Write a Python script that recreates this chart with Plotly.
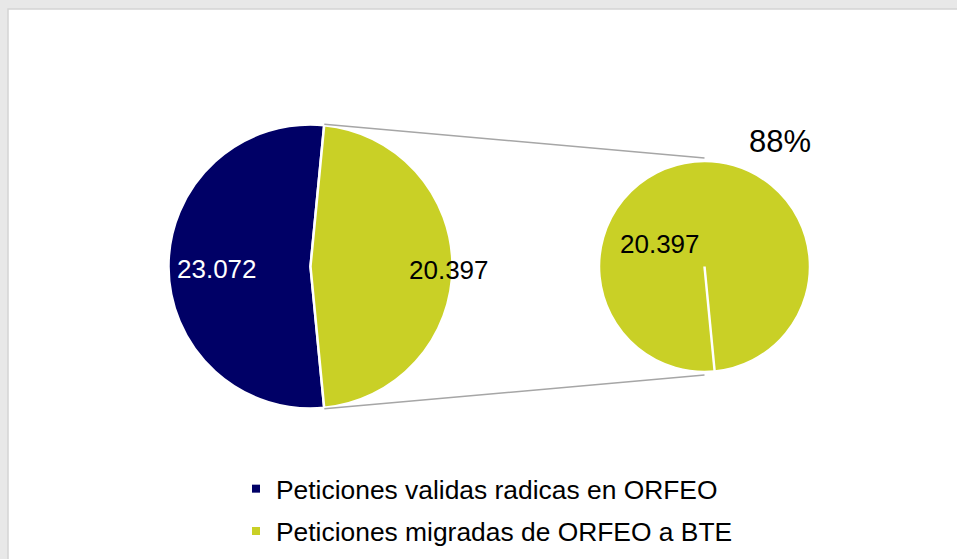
import math
import plotly.graph_objects as go

# data
labels = ["Peticiones validas radicas en ORFEO", "Peticiones migradas de ORFEO a BTE"]
values = [23072, 20397]
colors = ["#000066", "#C9D026"]
detail_values = [20397]

W, H = 957, 559
FONT = "Liberation Sans, Arial, sans-serif"


def fmt(v):
    return f"{v:,}".replace(",", ".")


def px(x):
    return x / W


def py(y):
    return 1 - y / H


# pie geometry (pixels)
c1x, c1y, r1 = 310.5, 266.5, 142
c2x, c2y, r2 = 704.5, 266.5, 105.5

green_deg = values[1] / sum(values) * 360
rot = 90 + green_deg / 2  # green slice centred on the right side
start_green = rot - green_deg  # clockwise angle (from 12 o'clock) where green begins
end_green = rot

pct = round(values[1] / values[0] * 100)

fig = go.Figure()

fig.add_trace(
    go.Pie(
        values=values,
        labels=labels,
        marker=dict(colors=colors, line=dict(color="white", width=2.5)),
        sort=False,
        direction="clockwise",
        rotation=rot,
        textinfo="none",
        hoverinfo="label+value",
        showlegend=False,
        domain=dict(
            x=[px(c1x - r1), px(c1x + r1)],
            y=[py(c1y + r1), py(c1y - r1)],
        ),
    )
)

fig.add_trace(
    go.Pie(
        values=detail_values,
        labels=[labels[1]],
        marker=dict(colors=[colors[1]], line=dict(color="white", width=2.5)),
        sort=False,
        direction="clockwise",
        rotation=end_green,
        textinfo="none",
        hoverinfo="label+value",
        showlegend=False,
        domain=dict(
            x=[px(c2x - r2), px(c2x + r2)],
            y=[py(c2y + r2), py(c2y - r2)],
        ),
    )
)

# legend entries
for lab, col in zip(labels, colors):
    fig.add_trace(
        go.Scatter(
            x=[None],
            y=[None],
            mode="markers",
            name=lab,
            legendgroup=lab,
            marker=dict(symbol="square", size=8, color=col),
        )
    )


def edge(cx, cy, r, ang):
    a = math.radians(ang)
    return cx + r * math.sin(a), cy - r * math.cos(a)


shapes = [
    # white panel
    dict(
        type="rect", xref="paper", yref="paper",
        x0=px(8), x1=px(W + 10), y0=py(H + 10), y1=py(9),
        fillcolor="white", line=dict(color="#d4d4d4", width=1.5), layer="below",
    )
]

# connector lines
tx, ty = edge(c1x, c1y, r1 + 1, start_green)
bx, by = edge(c1x, c1y, r1 + 1, end_green)
for (x0, y0), (x1, y1) in [((tx, ty), (c2x, c2y - r2 - 3)), ((bx, by), (c2x, c2y + r2 + 3))]:
    shapes.append(
        dict(
            type="line", xref="paper", yref="paper",
            x0=px(x0), y0=py(y0), x1=px(x1), y1=py(y1),
            line=dict(color="#a6a6a6", width=1.5),
        )
    )

# slice edge of the single-slice pie
ex, ey = edge(c2x, c2y, r2 + 1, end_green)
shapes.append(
    dict(
        type="line", xref="paper", yref="paper",
        x0=px(c2x), y0=py(c2y), x1=px(ex), y1=py(ey),
        line=dict(color="white", width=2.5),
    )
)

annotations = [
    dict(x=px(c1x - 93.5), y=py(c1y + 2.5), text=fmt(values[0]),
         font=dict(color="white", size=26, family=FONT)),
    dict(x=px(c1x + 138.5), y=py(c1y + 3), text=fmt(values[1]),
         font=dict(color="black", size=26, family=FONT)),
    dict(x=px(c2x - 44.5), y=py(c2y - 22), text=fmt(detail_values[0]),
         font=dict(color="black", size=26, family=FONT)),
    dict(x=px(780), y=py(141), text=f"{pct}%",
         font=dict(color="black", size=31, family=FONT)),
]
for a in annotations:
    a.update(xref="paper", yref="paper", showarrow=False, xanchor="center", yanchor="middle")

fig.update_layout(
    width=W,
    height=H,
    margin=dict(l=0, r=0, t=0, b=0),
    paper_bgcolor="#e8e8e8",
    plot_bgcolor="rgba(0,0,0,0)",
    xaxis=dict(visible=False),
    yaxis=dict(visible=False),
    shapes=shapes,
    annotations=annotations,
    showlegend=True,
    legend=dict(
        x=px(236),
        y=py(465),
        xanchor="left",
        yanchor="top",
        bgcolor="rgba(0,0,0,0)",
        font=dict(size=26.4, color="black", family=FONT),
        tracegroupgap=5,
        itemwidth=30,
    ),
)

fig.write_html(
    "out.html",
    config={"displayModeBar": False},
    post_script="document.body.style.margin='0';document.body.style.overflow='hidden';",
)
